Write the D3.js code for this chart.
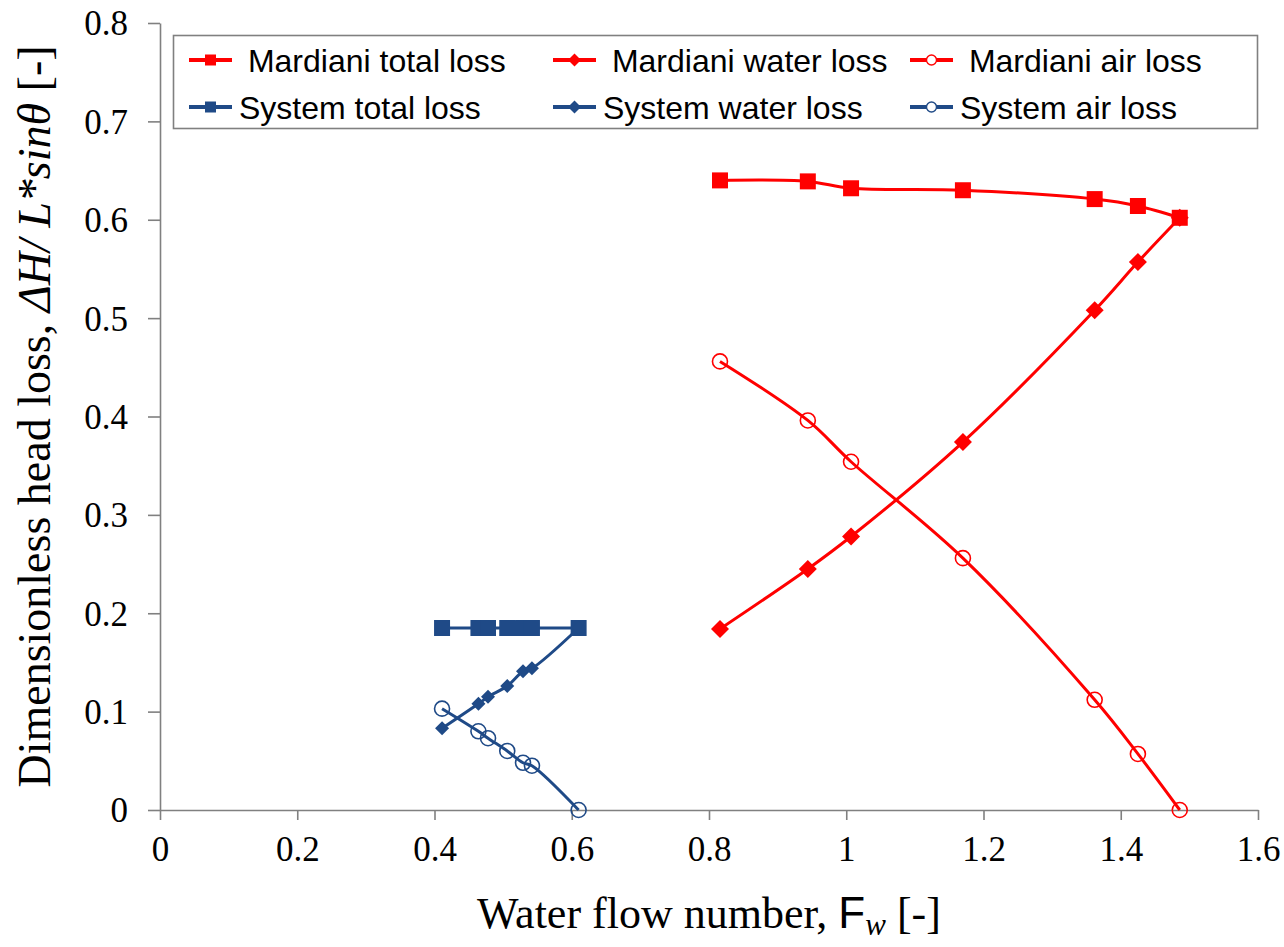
<!DOCTYPE html>
<html>
<head>
<meta charset="utf-8">
<script src="https://cdn.jsdelivr.net/npm/d3@7/dist/d3.min.js"></script>
<style>
  body { margin: 0; background: #fff; }
  svg { display: block; }
</style>
</head>
<body>
<div id="chart"></div>
<script>
// Mardiani data
const mardianiFw = [0.816, 0.944, 1.007, 1.170, 1.362, 1.425, 1.486];
const mardianiTotal = [0.640, 0.639, 0.632, 0.630, 0.621, 0.614, 0.602];
const mardianiWater = [0.184, 0.245, 0.278, 0.374, 0.508, 0.557, 0.602];
const mardianiAir = [0.456, 0.396, 0.354, 0.256, 0.112, 0.057, 0.0];

// System data
const systemFw = [0.411, 0.464, 0.478, 0.506, 0.529, 0.542, 0.610];
const systemTotal = [0.185, 0.185, 0.185, 0.185, 0.185, 0.185, 0.185];
const systemWater = [0.083, 0.108, 0.115, 0.126, 0.141, 0.144, 0.185];
const systemAir = [0.103, 0.080, 0.073, 0.060, 0.048, 0.045, 0.0];

const xTicks = [0, 0.2, 0.4, 0.6, 0.8, 1, 1.2, 1.4, 1.6];
const yTicks = [0, 0.1, 0.2, 0.3, 0.4, 0.5, 0.6, 0.7, 0.8];

const red = '#ff0000';
const blue = '#1f4a87';

const series = [
  { name: ' Mardiani total loss', fw: mardianiFw, v: mardianiTotal, color: red, marker: 'square', size: 16 },
  { name: ' Mardiani water loss', fw: mardianiFw, v: mardianiWater, color: red, marker: 'diamond', size: 18 },
  { name: ' Mardiani air loss', fw: mardianiFw, v: mardianiAir, color: red, marker: 'circle', size: 7.5 },
  { name: 'System total loss', fw: systemFw, v: systemTotal, color: blue, marker: 'square', size: 16 },
  { name: 'System water loss', fw: systemFw, v: systemWater, color: blue, marker: 'diamond', size: 14 },
  { name: 'System air loss', fw: systemFw, v: systemAir, color: blue, marker: 'circle', size: 7.5 }
];

const W = 1284, H = 947;
const margin = { top: 23, right: 26, bottom: 137, left: 160 };

const svg = d3.select('#chart').append('svg')
  .attr('width', W)
  .attr('height', H);

const x = d3.scaleLinear().domain([0, 1.6]).range([margin.left, W - margin.right]);
const y = d3.scaleLinear().domain([0, 0.8]).range([H - margin.bottom, margin.top]);

const fmt = d => String(+d.toFixed(1));

// axes
const xAxis = svg.append('g')
  .attr('transform', `translate(0, ${y(0)})`)
  .call(d3.axisBottom(x).tickValues(xTicks).tickFormat(fmt).tickSize(10).tickSizeOuter(0).tickPadding(16));

const yAxis = svg.append('g')
  .attr('transform', `translate(${x(0)}, 0)`)
  .call(d3.axisLeft(y).tickValues(yTicks).tickFormat(fmt).tickSize(12).tickSizeOuter(0).tickPadding(20));

[xAxis, yAxis].forEach(g => {
  g.select('.domain').attr('stroke', '#808080').attr('stroke-width', 1.6);
  g.selectAll('.tick line').attr('stroke', '#808080').attr('stroke-width', 1.6);
  g.selectAll('.tick text')
    .attr('fill', '#000')
    .style('font-family', '"Liberation Serif", "Times New Roman", serif')
    .style('font-size', '35px');
});
yAxis.selectAll('.tick text').attr('dy', '0.34em');

// lines
const line = d3.line()
  .x(d => x(d[0]))
  .y(d => y(d[1]))
  .curve(d3.curveCatmullRom.alpha(0.5));

const symbolPath = (marker, size) => {
  if (marker === 'square') return d3.symbol(d3.symbolSquare, size * size)();
  if (marker === 'diamond') {
    const h = size / 2;
    return `M0,${-h}L${h},0L0,${h}L${-h},0Z`;
  }
  return d3.symbol(d3.symbolCircle, Math.PI * size * size)();
};

series.forEach(s => {
  const pts = s.fw.map((f, i) => [f, s.v[i]]);
  svg.append('path')
    .datum(pts)
    .attr('d', line)
    .attr('fill', 'none')
    .attr('stroke', s.color)
    .attr('stroke-width', 3);

  svg.append('g')
    .selectAll('path')
    .data(pts)
    .join('path')
    .attr('transform', d => `translate(${x(d[0])}, ${y(d[1])})`)
    .attr('d', symbolPath(s.marker, s.size))
    .attr('fill', s.marker === 'circle' ? 'none' : s.color)
    .attr('stroke', s.color)
    .attr('stroke-width', s.marker === 'circle' ? 1.6 : 0);
});

// legend
const legend = svg.append('g');
legend.append('rect')
  .attr('x', 173.5).attr('y', 35.5)
  .attr('width', 1084).attr('height', 93)
  .attr('fill', '#fff')
  .attr('stroke', '#808080')
  .attr('stroke-width', 1.6);

const colX = [189, 553, 910];
const rowY = [60, 107];
series.forEach((s, i) => {
  const cx = colX[i % 3], cy = rowY[Math.floor(i / 3)];
  const g = legend.append('g');
  g.append('line')
    .attr('x1', cx).attr('x2', cx + 43)
    .attr('y1', cy).attr('y2', cy)
    .attr('stroke', s.color)
    .attr('stroke-width', 4);
  const ms = s.marker === 'circle' ? 5 : (s.marker === 'diamond' ? 13 : 11);
  g.append('path')
    .attr('transform', `translate(${cx + 21.5}, ${cy})`)
    .attr('d', symbolPath(s.marker, ms))
    .attr('fill', s.marker === 'circle' ? '#fff' : s.color)
    .attr('stroke', s.color)
    .attr('stroke-width', s.marker === 'circle' ? 1.4 : 0);
  g.append('text')
    .attr('x', cx + 50)
    .attr('y', cy + 11.5)
    .style('font-family', '"Liberation Sans", Arial, sans-serif')
    .style('font-size', '32px')
    .style('white-space', 'pre')
    .attr('xml:space', 'preserve')
    .text(s.name);
});

// axis titles
const xt = svg.append('text')
  .attr('x', (x(0) + x(1.6)) / 2)
  .attr('y', 928)
  .attr('text-anchor', 'middle')
  .style('font-family', '"Liberation Serif", "Times New Roman", serif')
  .style('font-size', '44px');
xt.append('tspan').text('Water flow number, ');
xt.append('tspan').style('font-family', '"Liberation Sans", Arial, sans-serif').text('F');
xt.append('tspan').style('font-style', 'italic').style('font-size', '31px').attr('dy', 7).text('w');
xt.append('tspan').attr('dy', -7).text(' [-]');

const yt = svg.append('text')
  .attr('transform', `translate(50, ${(y(0) + y(0.8)) / 2}) rotate(-90)`)
  .attr('text-anchor', 'middle')
  .style('font-family', '"Liberation Serif", "Times New Roman", serif')
  .style('font-size', '46px');
yt.append('tspan').text('Dimensionless head loss, ');
yt.append('tspan').style('font-style', 'italic').text('ΔH/ L*sin');
yt.append('tspan').style('font-style', 'italic').text('θ');
yt.append('tspan').text(' [-]');
</script>
</body>
</html>
